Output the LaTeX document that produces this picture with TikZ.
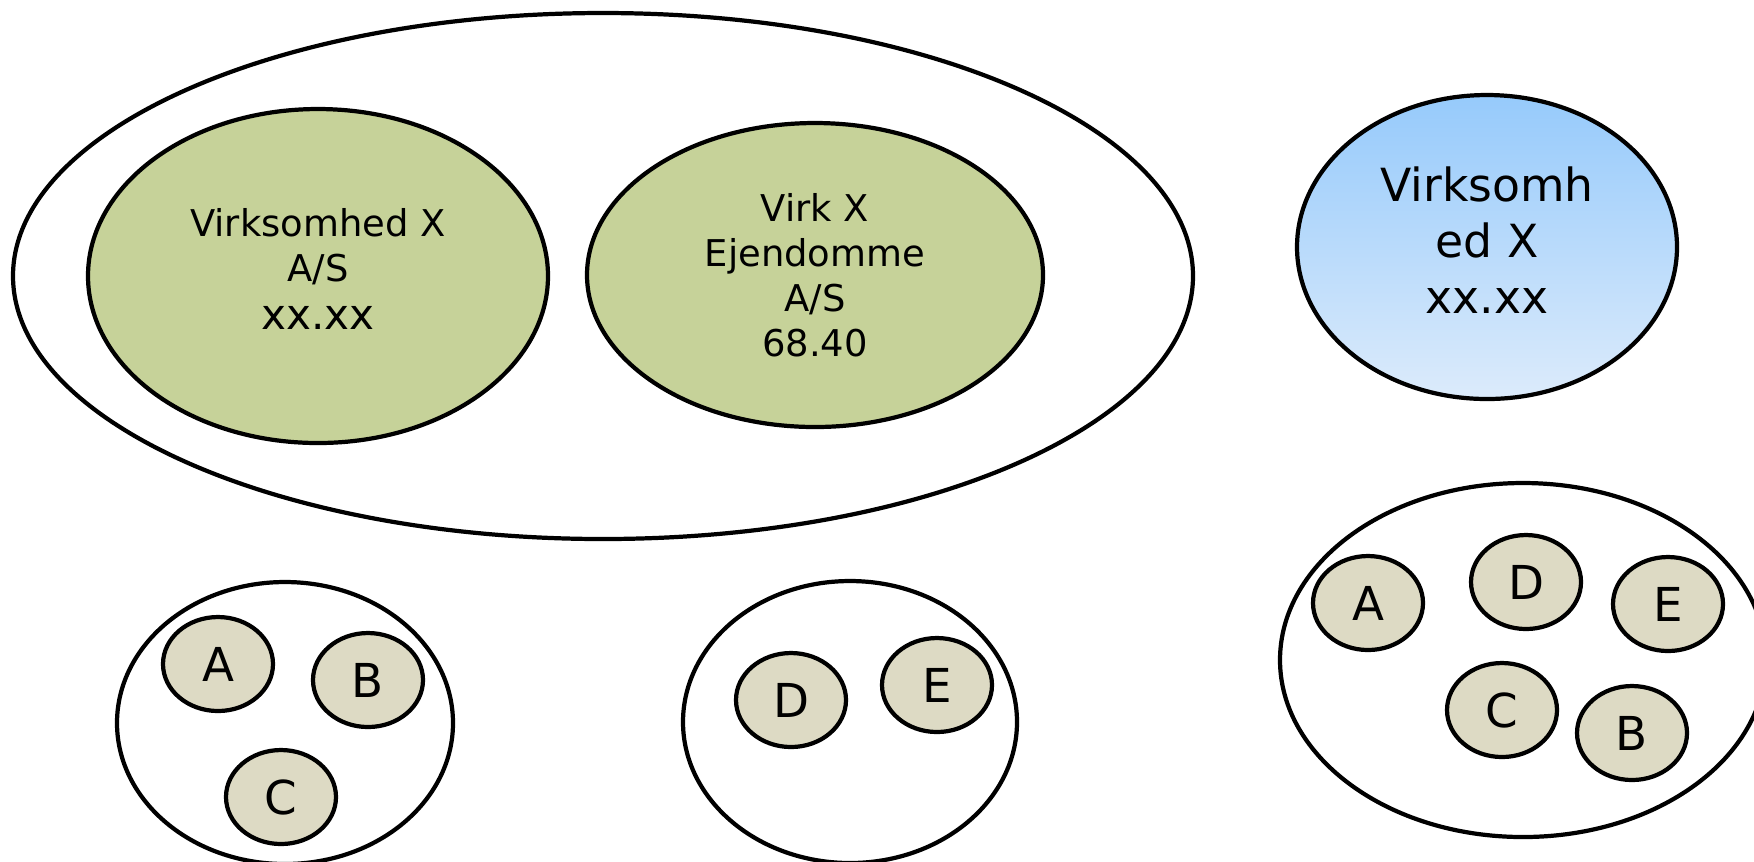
\documentclass[tikz,border=0pt]{standalone}
\usepackage{fontspec}
\setmainfont{DejaVu Sans}
\usetikzlibrary{shapes.geometric}
\definecolor{greenfill}{HTML}{C6D299}
\definecolor{smallfill}{HTML}{DDDAC4}
\definecolor{bluetop}{HTML}{96CAFB}
\definecolor{bluebot}{HTML}{DCEBFB}
\newcommand{\deeper}{\rule[-4pt]{0pt}{1pt}}
\tikzset{
  oval/.style={ellipse, draw=black, line width=1.2pt, inner sep=0pt, align=center},
  greenoval/.style={oval, fill=greenfill, font=\fontsize{10.5pt}{12.8pt}\selectfont},
  blueoval/.style={oval, top color=bluetop, bottom color=bluebot, font=\fontsize{13pt}{16pt}\selectfont},
  member/.style={oval, fill=smallfill, minimum width=11mm, minimum height=9.4mm, font=\fontsize{13.3pt}{16pt}\selectfont},
  groupoval/.style={oval, fill=white}
}
\begin{document}
\begin{tikzpicture}[x=0.1mm, y=-0.1mm]
\useasboundingbox (0,0) rectangle (1754,861);
% top-left group
\node[groupoval, minimum width=118mm, minimum height=52.6mm] (big) at (603,276) {};
\node[greenoval, minimum width=46mm, minimum height=33.4mm] (g1) at (318,276)
  {Virksomhed X\\A/S\\[1pt]{\fontsize{12pt}{13pt}\selectfont xx.xx}\deeper};
\node[greenoval, minimum width=45.6mm, minimum height=30.4mm] (g2) at (815,275)
  {Virk X\\Ejendomme\\A/S\\68.40};
% blue
\node[blueoval, minimum width=38mm, minimum height=30.4mm] (blue) at (1487,247)
  {Virksomh\\ed X\\xx.xx\deeper};
% bottom left group
\node[groupoval, minimum width=33.6mm, minimum height=28.2mm] (bl) at (285,723) {};
\node[member] (blA) at (218,664) {A};
\node[member] (blB) at (368,680) {B};
\node[member] (blC) at (281,797) {C};
% bottom middle group
\node[groupoval, minimum width=33.4mm, minimum height=28.2mm] (bm) at (850,722) {};
\node[member] (bmD) at (791,700) {D};
\node[member] (bmE) at (937,685) {E};
% bottom right group
\node[groupoval, minimum width=48.6mm, minimum height=35.4mm] (br) at (1523,660) {};
\node[member] (brA) at (1368,603) {A};
\node[member] (brD) at (1526,582) {D};
\node[member] (brE) at (1668,604) {E};
\node[member] (brC) at (1502,710) {C};
\node[member] (brB) at (1632,733) {B};
\end{tikzpicture}
\end{document}
